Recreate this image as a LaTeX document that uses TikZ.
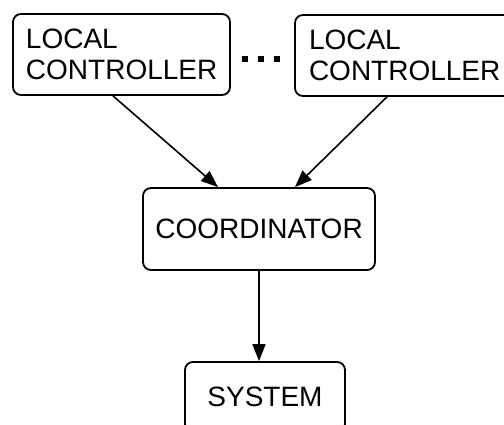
\documentclass[tikz,border=0pt]{standalone}
\usepackage{fontspec}
\setmainfont{Liberation Sans}
\usetikzlibrary{arrows.meta}
\begin{document}
\begin{tikzpicture}[x=1pt,y=-1pt,
  box/.style={draw,line width=1.8pt,rounded corners=8pt,font=\fontsize{28}{31}\selectfont},
  lbox/.style={box,align=left,minimum width=217pt,minimum height=81pt,inner xsep=13pt},
  arr/.style={line width=1.6pt,-{Triangle[length=17pt,width=13pt]}},
  dot/.style={fill,minimum size=6pt,inner sep=0pt}]
\useasboundingbox (0,0) rectangle (504,424);
\node[lbox,text width=191pt] (lc1) at (121.5,54.5) {LOCAL\\CONTROLLER};
\node[lbox,text width=191pt,minimum width=219pt] (lc2) at (404.5,55.5) {LOCAL\\CONTROLLER};
\node[dot] (d1) at (245,59) {};
\node[dot] (d2) at (261,59) {};
\node[dot] (d3) at (277,59) {};
\node[box,minimum width=232pt,minimum height=82pt] (co) at (259,229) {COORDINATOR};
\node[box,minimum width=160pt,minimum height=70pt,text depth=0pt] (sys) at (265,397) {SYSTEM};
\draw[arr] ([xshift=-8.5pt]lc1.south) -- ([xshift=-41pt]co.north);
\draw[arr] ([xshift=-17.5pt]lc2.south) -- ([xshift=36pt]co.north);
\draw[arr] (co.south) -- (co.south |- sys.north);
\end{tikzpicture}
\end{document}
